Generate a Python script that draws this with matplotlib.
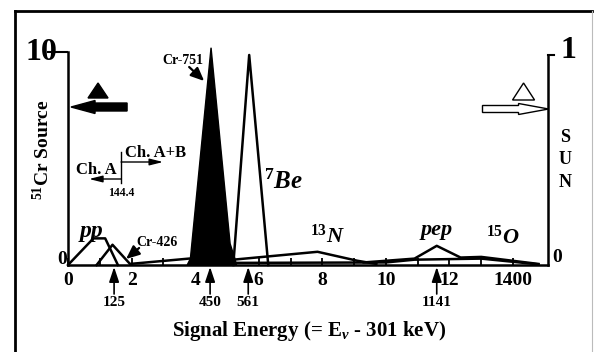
import matplotlib
matplotlib.use("Agg")
import matplotlib.pyplot as plt
from matplotlib.patches import Polygon, FancyArrow
from matplotlib.lines import Line2D

plt.rcParams['font.family'] = ['Liberation Serif', 'DejaVu Serif']
plt.rcParams['font.weight'] = 'bold'
plt.rcParams['mathtext.fontset'] = 'custom'
plt.rcParams['mathtext.rm'] = 'Liberation Serif:bold'
plt.rcParams['mathtext.it'] = 'Liberation Serif:bold:italic'

# ---------------- data (x in axis units, y in Cr-source units 0..10) -------------
xtick_pos = [0, 2, 4, 6, 8, 10, 12, 14]
xtick_labels = ["0", "2", "4", "6", "8", "10", "12", "1400"]

cr751_x = [3.75, 3.85, 4.5, 5.1, 5.25, 5.3]
cr751_y = [0.0, 0.3, 10.2, 1.0, 0.3, 0.0]

be7_x = [5.2, 5.7, 6.3]
be7_y = [0.0, 9.86, 0.0]

pp_x = [0.0, 0.8, 1.17, 1.57]
pp_y = [0.0, 1.25, 1.25, 0.0]

cr426_x = [0.9, 1.4, 1.95, 3.8]
cr426_y = [0.0, 0.95, 0.05, 0.3]

n13_x = [5.2, 7.85, 9.1, 9.7]
n13_y = [0.25, 0.62, 0.2, 0.05]

base_x = [5.3, 10.0, 10.9, 13.0, 14.8]
base_y = [0.1, 0.12, 0.25, 0.3, 0.03]

pep_x = [9.3, 10.9, 11.6, 12.35, 13.0, 14.8]
pep_y = [0.12, 0.3, 0.9, 0.35, 0.38, 0.05]

marker_energies = ["125", "450", "561", "1141"]
marker_pos = [1.45, 4.47, 5.67, 11.6]

W, H = 594, 352
fig = plt.figure(figsize=(W / 100, H / 100), dpi=100)

def P(px, py):
    return (px / W, 1 - py / H)

# axes geometry (pixels)
ax_l, ax_r, ax_b = 68, 548, 265
ppu_y = 21.3
ytop = 10.4
ax_t = ax_b - ytop * ppu_y
ax = fig.add_axes([ax_l / W, 1 - ax_b / H, (ax_r - ax_l) / W, (ax_b - ax_t) / H])
ax.set_xlim(0, 15.1)
ax.set_ylim(0, ytop)
ax.spines['top'].set_visible(False)
for s in ['left', 'right', 'bottom']:
    ax.spines[s].set_linewidth(1.8)
ax.spines['left'].set_bounds(0, 10)
ax.spines['right'].set_bounds(0, 9.86)

ax.set_xticks(range(0, 15))
ax.set_xticklabels([xtick_labels[xtick_pos.index(i)] if i in xtick_pos else "" for i in range(0, 15)],
                   fontsize=14, fontweight='bold')
ax.tick_params(axis='x', direction='in', length=5, width=1.3, pad=5)
ax.set_yticks([10])
ax.set_yticklabels([""])
ax.tick_params(axis='y', direction='out', length=15, width=1.5, left=True, right=False)

def dx(px):
    return (px - ax_l) / 31.75

def dy(py):
    return (ax_b - py) / ppu_y

# shapes
ax.add_patch(Polygon(list(zip(cr751_x, cr751_y)), closed=True, facecolor='black',
                     edgecolor='black', lw=1.0, clip_on=False))
lw = 1.8
ax.plot(be7_x, be7_y, color='black', lw=lw, clip_on=False)
ax.plot(pp_x, pp_y, color='black', lw=lw, clip_on=False)
ax.plot(cr426_x, cr426_y, color='black', lw=lw, clip_on=False)
ax.plot(n13_x, n13_y, color='black', lw=lw, clip_on=False)
ax.plot(base_x, base_y, color='black', lw=lw, clip_on=False)
ax.plot(pep_x, pep_y, color='black', lw=lw, clip_on=False)

# right tick "1"
fig.add_artist(Line2D([P(548, 55)[0], P(554, 55)[0]], [P(548, 55)[1], P(554, 55)[1]],
                      color='black', lw=1.5))

# axis number labels
fig.text(*P(41, 52), "10", fontsize=23, fontweight='bold', ha='center', va='center')
fig.text(*P(62, 259), "0", fontsize=14, fontweight='bold', ha='center', va='center')
fig.text(*P(568, 50), "1", fontsize=23, fontweight='bold', ha='center', va='center')
fig.text(*P(557, 258), "0", fontsize=14, fontweight='bold', ha='center', va='center')

# axis titles
fig.text(*P(309, 331), r"Signal Energy (= E$_{\nu}$ - 301 keV)", fontsize=15,
         fontweight='bold', ha='center', va='center')
fig.text(*P(43, 150), r"$^{51}$Cr Source", fontsize=14, fontweight='bold',
         ha='center', va='center', rotation=90)
fig.text(*P(565, 160), "S\nU\nN", fontsize=13, fontweight='bold', ha='center',
         va='center', linespacing=1.45)

# source labels
fig.text(*P(92, 232), "pp", fontsize=17, fontstyle='italic', fontweight='bold',
         ha='center', va='center')
fig.text(*P(283, 182), r"$^{7}$Be", fontsize=18, fontstyle='italic', fontweight='bold',
         ha='center', va='center')
fig.text(*P(327, 236), r"$^{13}$N", fontsize=16, fontstyle='italic', fontweight='bold',
         ha='center', va='center')
fig.text(*P(437, 230), "pep", fontsize=16, fontstyle='italic', fontweight='bold',
         ha='center', va='center')
fig.text(*P(503, 237), r"$^{15}$O", fontsize=16, fontstyle='italic', fontweight='bold',
         ha='center', va='center')

# Cr labels with arrows
fig.text(*P(183, 60), "Cr-751", fontsize=10, fontweight='bold', ha='center', va='center')
ax.annotate("", xy=(dx(204), dy(81)), xytext=(dx(189), dy(67)), annotation_clip=False,
            arrowprops=dict(arrowstyle='-|>,head_length=0.8,head_width=0.35', color='black',
                            lw=1.6, shrinkA=0, shrinkB=0))
fig.text(*P(157, 242), "Cr-426", fontsize=10, fontweight='bold', ha='center', va='center')
ax.annotate("", xy=(dx(126), dy(259)), xytext=(dx(139), dy(248)), annotation_clip=False,
            arrowprops=dict(arrowstyle='-|>,head_length=0.8,head_width=0.35', color='black',
                            lw=1.6, shrinkA=0, shrinkB=0))

# energy markers below axis
for lab, xp in zip(marker_energies, marker_pos):
    ax.annotate("", xy=(xp, dy(267)), xytext=(xp, dy(294)), annotation_clip=False,
                arrowprops=dict(arrowstyle='-|>,head_length=0.9,head_width=0.3',
                                color='black', lw=1.2, shrinkA=0, shrinkB=0))
    ax.text(xp, dy(303), lab, fontsize=11, fontweight='bold', ha='center', va='center',
            clip_on=False)

# Channel annotation
fig.add_artist(Line2D([P(121, 152)[0]] * 2, [P(121, 152)[1], P(121, 183)[1]],
                      color='black', lw=1.0))
ax.annotate("", xy=(dx(163), dy(162)), xytext=(dx(121), dy(162)), annotation_clip=False,
            arrowprops=dict(arrowstyle='-|>,head_length=0.8,head_width=0.2', color='black',
                            lw=1.0, shrinkA=0, shrinkB=0))
ax.annotate("", xy=(dx(89), dy(179)), xytext=(dx(121), dy(179)), annotation_clip=False,
            arrowprops=dict(arrowstyle='-|>,head_length=0.8,head_width=0.2', color='black',
                            lw=1.0, shrinkA=0, shrinkB=0))
fig.text(*P(156, 153), "Ch. A+B", fontsize=12, fontweight='bold', ha='center', va='center')
fig.text(*P(96, 170), "Ch. A", fontsize=12, fontweight='bold', ha='center', va='center')
fig.text(*P(121, 193), "144.4", fontsize=8.5, fontweight='bold', ha='center', va='center')

# big direction arrows
ax.add_patch(FancyArrow(dx(127), dy(107), dx(71) - dx(127), 0, width=8 / ppu_y,
                        head_width=13 / ppu_y, head_length=24 / 31.75,
                        length_includes_head=True, color='black', clip_on=False))
ax.add_patch(Polygon([(dx(98), dy(83)), (dx(88), dy(98)), (dx(108), dy(98))], closed=True,
                     facecolor='black', edgecolor='black', clip_on=False))
ax.add_patch(FancyArrow(dx(482), dy(109), dx(548) - dx(482), 0, width=7 / ppu_y,
                        head_width=11 / ppu_y, head_length=30 / 31.75,
                        length_includes_head=True, facecolor='white', edgecolor='black',
                        lw=1.0, clip_on=False))
ax.add_patch(Polygon([(dx(523), dy(83)), (dx(512), dy(100)), (dx(534), dy(100))], closed=True,
                     facecolor='white', edgecolor='black', lw=1.0, clip_on=False))

# outer frame
fig.add_artist(Line2D([P(15, 11)[0], P(592, 11)[0]], [P(15, 11)[1]] * 2, color='black', lw=2))
fig.add_artist(Line2D([P(15, 11)[0]] * 2, [P(15, 11)[1], 0], color='black', lw=2))
fig.add_artist(Line2D([P(592, 11)[0]] * 2, [P(592, 11)[1], 0], color='#bbbbbb', lw=0.8))

fig.savefig("out.png", dpi=100)
